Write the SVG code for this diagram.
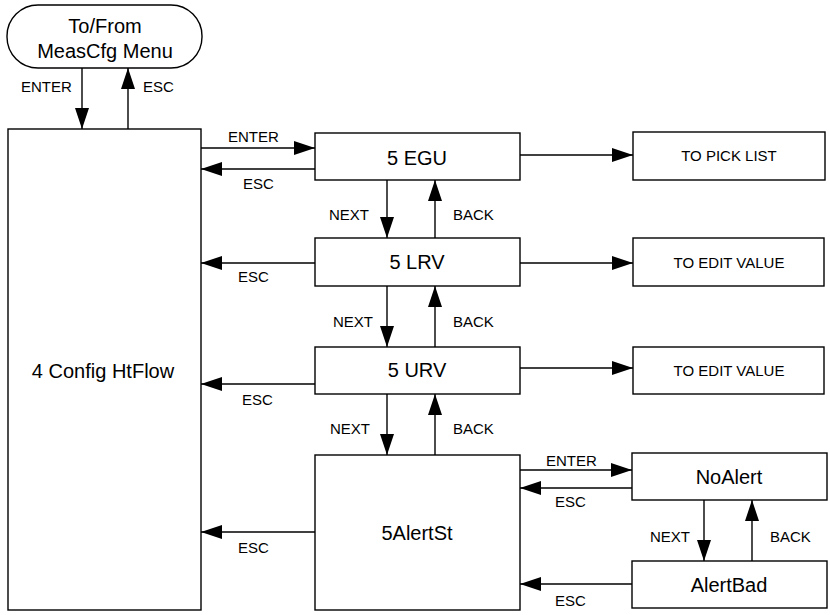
<svg xmlns="http://www.w3.org/2000/svg" width="830" height="615" viewBox="0 0 830 615">
<style>
.box{fill:#fff;stroke:#000;stroke-width:1.4}
.ln{fill:none;stroke:#000;stroke-width:1.4;marker-end:url(#ah)}
.t{font-family:"Liberation Sans",Arial,sans-serif;font-size:20px;fill:#000;text-anchor:middle}
.s{font-family:"Liberation Sans",Arial,sans-serif;font-size:15px;fill:#000}
.sm{font-family:"Liberation Sans",Arial,sans-serif;font-size:15px;fill:#000;text-anchor:middle}
</style>
<defs>
<marker id="ah" markerUnits="userSpaceOnUse" markerWidth="22" markerHeight="15" refX="21" refY="7" orient="auto">
<path d="M0,0 L21,7 L0,14 z" fill="#000"/>
</marker>
</defs>
<rect width="830" height="615" fill="#fff"/>
<g id="menu"><rect class="box" x="7" y="5" width="195" height="63" rx="31"/><text class="t" x="105" y="33">To/From</text><text class="t" x="105" y="58">MeasCfg Menu</text></g>
<g id="config"><rect class="box" x="8" y="129" width="193" height="481"/><text class="t" x="103" y="378">4 Config HtFlow</text></g>
<g id="egu"><rect class="box" x="315" y="133" width="205" height="47"/><text class="t" x="417" y="165">5 EGU</text></g>
<g id="lrv"><rect class="box" x="315" y="238" width="205" height="48"/><text class="t" x="417" y="269">5 LRV</text></g>
<g id="urv"><rect class="box" x="315" y="347" width="205" height="47"/><text class="t" x="417" y="377">5 URV</text></g>
<g id="alertst"><rect class="box" x="315" y="455" width="205" height="155"/><text class="t" x="417" y="540">5AlertSt</text></g>
<g id="picklist"><rect class="box" x="633" y="132" width="192" height="48"/><text class="sm" x="729" y="161">TO PICK LIST</text></g>
<g id="editlrv"><rect class="box" x="633" y="238" width="191" height="48"/><text class="sm" x="729" y="268">TO EDIT VALUE</text></g>
<g id="editurv"><rect class="box" x="633" y="347" width="191" height="47"/><text class="sm" x="729" y="376">TO EDIT VALUE</text></g>
<g id="noalert"><rect class="box" x="632" y="453" width="195" height="47"/><text class="t" x="729" y="484">NoAlert</text></g>
<g id="alertbad"><rect class="box" x="632" y="561" width="195" height="47"/><text class="t" x="729" y="592">AlertBad</text></g>
<g id="connectors">
<path class="ln" d="M82,68 V129"/>
<path class="ln" d="M128,129 V68"/>
<path class="ln" d="M201,148 H315"/>
<path class="ln" d="M315,169 H201"/>
<path class="ln" d="M520,155 H633"/>
<path class="ln" d="M387,180 V238"/>
<path class="ln" d="M435,238 V180"/>
<path class="ln" d="M315,263 H201"/>
<path class="ln" d="M520,263 H633"/>
<path class="ln" d="M387,286 V347"/>
<path class="ln" d="M435,347 V286"/>
<path class="ln" d="M315,384 H201"/>
<path class="ln" d="M520,368 H633"/>
<path class="ln" d="M387,394 V455"/>
<path class="ln" d="M435,455 V394"/>
<path class="ln" d="M315,532 H201"/>
<path class="ln" d="M520,470 H632"/>
<path class="ln" d="M632,488 H520"/>
<path class="ln" d="M704,500 V561"/>
<path class="ln" d="M752,561 V500"/>
<path class="ln" d="M632,584 H520"/>
<text class="s" x="21" y="92">ENTER</text>
<text class="s" x="143" y="92">ESC</text>
<text class="s" x="228" y="142">ENTER</text>
<text class="s" x="243" y="189">ESC</text>
<text class="s" x="329" y="220">NEXT</text>
<text class="s" x="453" y="220">BACK</text>
<text class="s" x="238" y="282">ESC</text>
<text class="s" x="333" y="327">NEXT</text>
<text class="s" x="453" y="327">BACK</text>
<text class="s" x="242" y="405">ESC</text>
<text class="s" x="330" y="434">NEXT</text>
<text class="s" x="453" y="434">BACK</text>
<text class="s" x="238" y="553">ESC</text>
<text class="s" x="546" y="466">ENTER</text>
<text class="s" x="555" y="507">ESC</text>
<text class="s" x="650" y="542">NEXT</text>
<text class="s" x="770" y="542">BACK</text>
<text class="s" x="555" y="606">ESC</text>
</g>
</svg>
